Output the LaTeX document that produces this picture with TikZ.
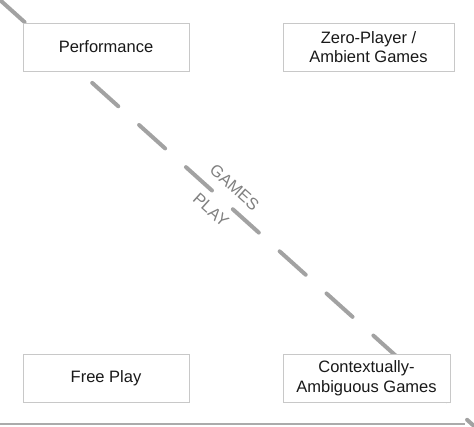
\documentclass[tikz,border=0pt]{standalone}
\usepackage{fontspec}
\setmainfont{Liberation Sans}
\definecolor{dashgray}{HTML}{A2A2A2}
\definecolor{boxgray}{HTML}{C8C8C8}
\definecolor{labelgray}{HTML}{808080}
\definecolor{axisgray}{HTML}{ABABAB}
\begin{document}
\begin{tikzpicture}[x=1pt,y=-1pt,
  catbox/.style={draw=boxgray,line width=0.9pt,fill=white,align=center,
    inner sep=0pt,font=\fontsize{16.5}{19.5}\selectfont,text=black!90},
  divider/.style={draw=dashgray,line width=4pt,line cap=round,
    dash pattern=on 35pt off 28pt,dash phase=2pt},
  sidelabel/.style={text=labelgray,font=\fontsize{16.5}{19.5}\selectfont,
    rotate=-41.94,inner sep=0pt}]
\useasboundingbox (0,0) rectangle (474,426);
\coordinate (tl) at (0,0);
\coordinate (br) at (474,426);
\coordinate (axl) at (0,424.3);
\coordinate (axr) at (465,424.3);
\draw[axisgray,line width=2pt] (axl) -- (axr);
\draw[divider] (tl) -- (br);
\node[catbox,minimum width=166pt,minimum height=48pt] (perf) at (106,47) {Performance};
\node[catbox,minimum width=171pt,minimum height=48pt] (zero) at (368.5,47) {Zero-Player /\\Ambient Games};
\node[catbox,minimum width=166pt,minimum height=48pt] (free) at (106,378) {Free Play};
\node[catbox,minimum width=167pt,minimum height=48pt] (ctx) at (366.5,378) {Contextually-\\Ambiguous Games};
\node[sidelabel] (games) at (234.5,187.5) {GAMES};
\node[sidelabel] (play) at (211,210) {PLAY};
\end{tikzpicture}
\end{document}
